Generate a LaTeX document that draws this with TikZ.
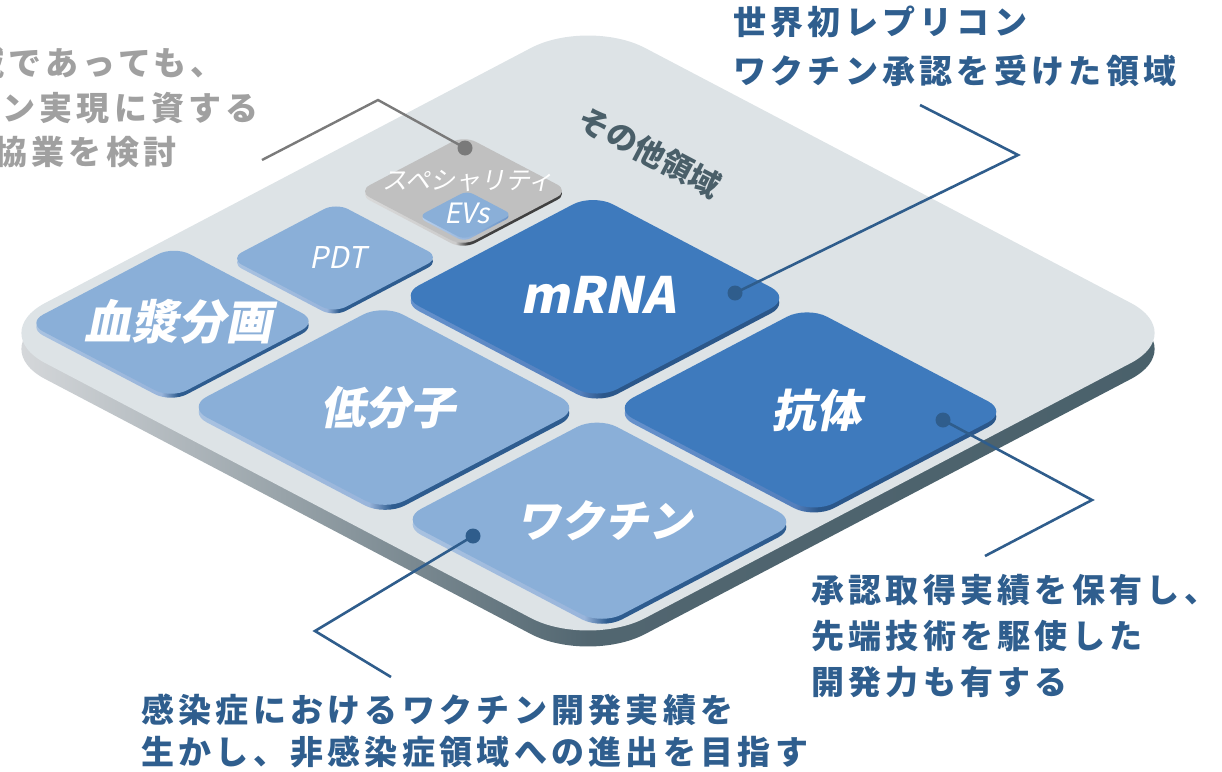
\documentclass[tikz,border=0pt]{standalone}
\usepackage{fontspec}
\newfontfamily\jp{Noto Sans CJK JP}
\newfontfamily\jpsp[LetterSpace=13]{Noto Sans CJK JP}
\newfontfamily\jpsl[FakeSlant=0.2]{Noto Sans CJK JP}
\definecolor{plat}{HTML}{DDE3E6}
\definecolor{lightT}{HTML}{8AAFD8}
\definecolor{darkT}{HTML}{3E7ABD}
\definecolor{greyT}{HTML}{C0C0C0}
\definecolor{leadblue}{HTML}{2F5D8C}
\definecolor{calltext}{HTML}{2F5E8E}
\definecolor{leadgrey}{HTML}{7A7A7A}
\definecolor{greytext}{HTML}{A0A0A0}
\definecolor{slate}{HTML}{4A5F69}
\pgfdeclarehorizontalshading{platside}{100bp}{rgb(0bp)=(.84,.85,.86); rgb(25bp)=(.84,.85,.86); rgb(50bp)=(.32,.40,.44); rgb(75bp)=(.29,.38,.42); rgb(100bp)=(.29,.38,.42)}
\pgfdeclarehorizontalshading{sidelight}{100bp}{rgb(0bp)=(.66,.76,.88); rgb(25bp)=(.66,.76,.88); rgb(48bp)=(.60,.71,.86); rgb(51bp)=(.18,.36,.56); rgb(100bp)=(.18,.36,.56)}
\pgfdeclarehorizontalshading{sidedark}{100bp}{rgb(0bp)=(.40,.57,.80); rgb(25bp)=(.40,.57,.80); rgb(48bp)=(.33,.50,.74); rgb(51bp)=(.17,.34,.54); rgb(100bp)=(.17,.34,.54)}
\pgfdeclarehorizontalshading{sidegrey}{100bp}{rgb(0bp)=(.85,.85,.85); rgb(25bp)=(.85,.85,.85); rgb(48bp)=(.80,.80,.80); rgb(51bp)=(.25,.25,.25); rgb(100bp)=(.25,.25,.25)}
\pgfdeclarehorizontalshading{sideevs}{100bp}{rgb(0bp)=(.72,.81,.92); rgb(25bp)=(.72,.81,.92); rgb(50bp)=(.60,.72,.87); rgb(75bp)=(.42,.58,.78); rgb(100bp)=(.42,.58,.78)}
% rounded rectangle in the (u,v) plane: style, u1, v1, u2, v2, radius
\newcommand{\rr}[6]{%
 \path[#1] (#2+#6,#3) -- (#4-#6,#3)
  .. controls (#4-0.4477*#6,#3) and (#4,#3+0.4477*#6) .. (#4,#3+#6)
  -- (#4,#5-#6)
  .. controls (#4,#5-0.4477*#6) and (#4-0.4477*#6,#5) .. (#4-#6,#5)
  -- (#2+#6,#5)
  .. controls (#2+0.4477*#6,#5) and (#2,#5-0.4477*#6) .. (#2,#5-#6)
  -- (#2,#3+#6)
  .. controls (#2,#3+0.4477*#6) and (#2+0.4477*#6,#3) .. (#2+#6,#3) -- cycle;}
% tile: u1, v1, u2, v2, radius, depth, top colour, side shading
\newcommand{\tile}[8]{%
 \rr{yshift=-#6pt, shade, shading=#8}{#1}{#2}{#3}{#4}{#5}
 \rr{fill=#7}{#1}{#2}{#3}{#4}{#5}}
\tikzset{
 lead/.style={draw=leadblue, line width=2.6pt},
 greylead/.style={draw=leadgrey, line width=2.4pt},
 bdot/.style={circle, fill=leadblue, inner sep=0pt, minimum size=15pt},
 gdot/.style={circle, fill=leadgrey, inner sep=0pt, minimum size=15pt},
 callout/.style={anchor=base west, inner sep=0pt, text=calltext, font=\jpsp\bfseries\fontsize{33}{33}\selectfont},
 greycall/.style={callout, text=greytext},
 boldlab/.style={inner sep=0pt, text=white, font=\jpsl\bfseries\fontsize{#1}{#1}\selectfont},
 smalllab/.style={inner sep=0pt, text=white, font=\jpsl\fontsize{#1}{#1}\selectfont}
}
\begin{document}
\begin{tikzpicture}[x=1pt,y=-1pt]
\useasboundingbox (0,0) rectangle (1222,771);
\begin{scope}[shift={(588pt,-333pt)}, x={(1pt,-0.525pt)}, y={(-1pt,-0.525pt)}]
 \rr{yshift=-16pt, shade, shading=platside}{-300}{-300}{300}{300}{57}
 \rr{fill=plat}{-300}{-300}{300}{300}{57}
 \tile{-290}{124}{-146}{271}{16}{4}{lightT}{sidelight}
 \tile{-250}{2}{-146}{108}{12}{4}{lightT}{sidelight}
 \tile{-250}{-126}{-145}{-20}{12}{3}{greyT}{sidegrey}
 \tile{-196}{-75}{-151}{-27}{6}{2}{lightT}{sideevs}
 \tile{-130}{-135}{68}{59}{20}{5}{darkT}{sidedark}
 \tile{84}{-135}{285}{59}{20}{5}{darkT}{sidedark}
 \tile{-130}{75}{68}{271}{20}{5}{lightT}{sidelight}
 \tile{84}{75}{285}{271}{20}{5}{lightT}{sidelight}
\end{scope}
% tile labels
\node[boldlab=47] (lplasma) at (178,322) {血漿分画};
\node[smalllab=30] (lpdt) at (338,258) {PDT};
\node[smalllab=25] (lspec) at (468,181) {スペシャリティ};
\node[smalllab=28] (levs) at (467,213) {EVs};
\node[boldlab=50] (lmrna) at (598,295) {mRNA};
\node[boldlab=45] (lab) at (816,410) {抗体};
\node[boldlab=45] (lsmall) at (388,408) {低分子};
\node[boldlab=44] (lvac) at (604,521) {ワクチン};
\node[rotate=-27.7, inner sep=0pt, text=slate, font=\jp\bfseries\fontsize{31}{31}\selectfont] (lother) at (650,152) {その他領域};
% leaders
\node[gdot] (gd) at (465,148) {};
\coordinate (gk) at (378,100);
\coordinate (ge) at (262,160);
\draw[greylead] (gd.center) -- (gk) -- (ge);
\node[bdot] (dm) at (735,293) {};
\coordinate (km) at (1018,155);
\coordinate (em) at (920,105);
\draw[lead] (dm.center) -- (km) -- (em);
\node[bdot] (da) at (943,420) {};
\coordinate (ka) at (1092,500);
\coordinate (ea) at (985,556);
\draw[lead] (da.center) -- (ka) -- (ea);
\node[bdot] (dv) at (473,536) {};
\coordinate (kv) at (315,631);
\coordinate (ev) at (391,677);
\draw[lead] (dv.center) -- (kv) -- (ev);
% callout texts
\node[callout] (t1a) at (733,34.5) {世界初レプリコン};
\node[callout] (t1b) at (733,83.5) {ワクチン承認を受けた領域};
\node[callout] (t2a) at (811,602.5) {承認取得実績を保有し、};
\node[callout] (t2b) at (811,648.5) {先端技術を駆使した};
\node[callout] (t2c) at (811,694.5) {開発力も有する};
\node[callout] (t3a) at (141,722.5) {感染症におけるワクチン開発実績を};
\node[callout] (t3b) at (141,764.5) {生かし、非感染症領域への進出を目指す};
\node[greycall] (g1) at (-29,75.5) {域であっても、};
\node[greycall] (g2) at (2,120) {ン実現に資する};
\node[greycall] (g3) at (-6,164) {協業を検討};
\end{tikzpicture}
\end{document}
